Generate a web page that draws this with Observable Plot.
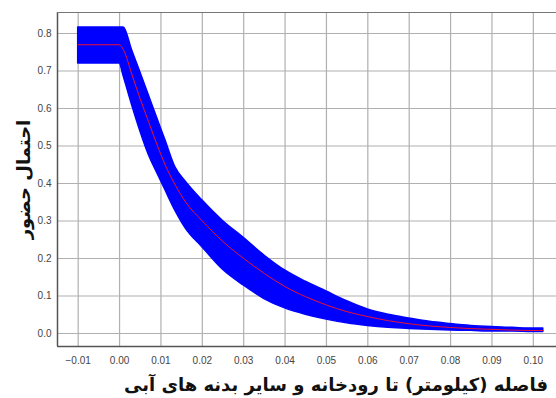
<!DOCTYPE html>
<html>
<head>
<meta charset="utf-8">
<script src="https://cdn.jsdelivr.net/npm/d3@7"></script>
<script src="https://cdn.jsdelivr.net/npm/@observablehq/plot@0.6"></script>
<style>
  html, body { margin: 0; padding: 0; background: #fff; }
  #chart svg { display: block; }
</style>
</head>
<body>
<div id="chart"></div>
<script>
// Distance from rivers and other water bodies (km)
const distance = [-0.01, 0.0, 0.001, 0.003, 0.005, 0.007, 0.009, 0.011, 0.0135, 0.016, 0.02, 0.025,
  0.03, 0.035, 0.04, 0.045, 0.05, 0.055, 0.06, 0.065, 0.07, 0.075, 0.08, 0.085, 0.09, 0.095, 0.1, 0.1024];
// Mean probability of presence
const meanProb = [0.77, 0.77, 0.755, 0.69, 0.625, 0.565, 0.505, 0.45, 0.395, 0.35, 0.30, 0.245,
  0.20, 0.16, 0.125, 0.098, 0.076, 0.058, 0.045, 0.034, 0.026, 0.02, 0.016, 0.013, 0.011, 0.009, 0.008, 0.008];
// Upper and lower bounds of the response band
const upperProb = [0.816, 0.816, 0.816, 0.756, 0.697, 0.637, 0.577, 0.518, 0.443, 0.405, 0.355, 0.30,
  0.255, 0.208, 0.168, 0.138, 0.112, 0.086, 0.064, 0.05, 0.04, 0.031, 0.025, 0.02, 0.017, 0.015, 0.013, 0.013];
const lowerProb = [0.72, 0.72, 0.685, 0.61, 0.54, 0.478, 0.43, 0.384, 0.327, 0.28, 0.23, 0.17,
  0.128, 0.092, 0.067, 0.05, 0.037, 0.027, 0.02, 0.015, 0.012, 0.01, 0.008, 0.007, 0.005, 0.005, 0.004, 0.004];

const xTicks = [-0.01, 0.0, 0.01, 0.02, 0.03, 0.04, 0.05, 0.06, 0.07, 0.08, 0.09, 0.10];
const yTicks = [0.0, 0.1, 0.2, 0.3, 0.4, 0.5, 0.6, 0.7, 0.8];

const xLabel = "فاصله (کیلومتر) تا رودخانه و سایر بدنه های آبی";
const yLabel = "احتمال حضور";

const xDomain = [-0.015, 0.1056];
const yDomain = [-0.0347, 0.856];

const rows = distance.map((d, i) => ({
  d, mean: meanProb[i], hi: upperProb[i], lo: lowerProb[i]
}));

const titleFont = "'DejaVu Sans', sans-serif";

const chart = Plot.plot({
  width: 556,
  height: 398,
  marginLeft: 57,
  marginRight: 0,
  marginTop: 12,
  marginBottom: 52,
  x: {domain: xDomain},
  y: {domain: yDomain},
  style: {
    background: "#fff",
    fontFamily: "'Liberation Sans', Arial, sans-serif",
    fontSize: "10px",
    color: "#444"
  },
  marks: [
    Plot.gridX(xTicks, {stroke: "#b0b0b0", strokeOpacity: 1, strokeWidth: 1.2}),
    Plot.gridY(yTicks, {stroke: "#b0b0b0", strokeOpacity: 1, strokeWidth: 1.2}),
    Plot.areaY(rows, {x: "d", y1: "lo", y2: "hi", curve: "monotone-x", fill: "#0000ff", stroke: "#0000ff", strokeWidth: 1.5}),
    Plot.line(rows, {x: "d", y: "mean", curve: "monotone-x", stroke: "#f01030", strokeWidth: 1}),
    Plot.ruleX([xDomain[0]], {stroke: "#555", strokeWidth: 1.5}),
    Plot.ruleY([yDomain[0]], {stroke: "#555", strokeWidth: 1.5}),
    Plot.ruleY([yDomain[1]], {stroke: "#777", strokeWidth: 1.2}),
    Plot.axisX(xTicks, {tickFormat: d3.format(".2f"), tickSize: 0, tickPadding: 10, label: null}),
    Plot.axisY(yTicks, {tickFormat: d3.format(".1f"), tickSize: 0, tickPadding: 6, label: null}),
    Plot.text([xLabel], {
      frameAnchor: "bottom", dy: 39, dx: 29, text: d => d, textAnchor: "middle",
      fontSize: 18, fontWeight: "bold", fontFamily: titleFont, fill: "#111", lineAnchor: "middle"
    }),
    Plot.text([yLabel], {
      frameAnchor: "left", dx: -33, rotate: -90, text: d => d, textAnchor: "middle",
      fontSize: 18, fontWeight: "bold", fontFamily: titleFont, fill: "#111", lineAnchor: "middle"
    })
  ]
});

document.getElementById("chart").appendChild(chart);
</script>
</body>
</html>
